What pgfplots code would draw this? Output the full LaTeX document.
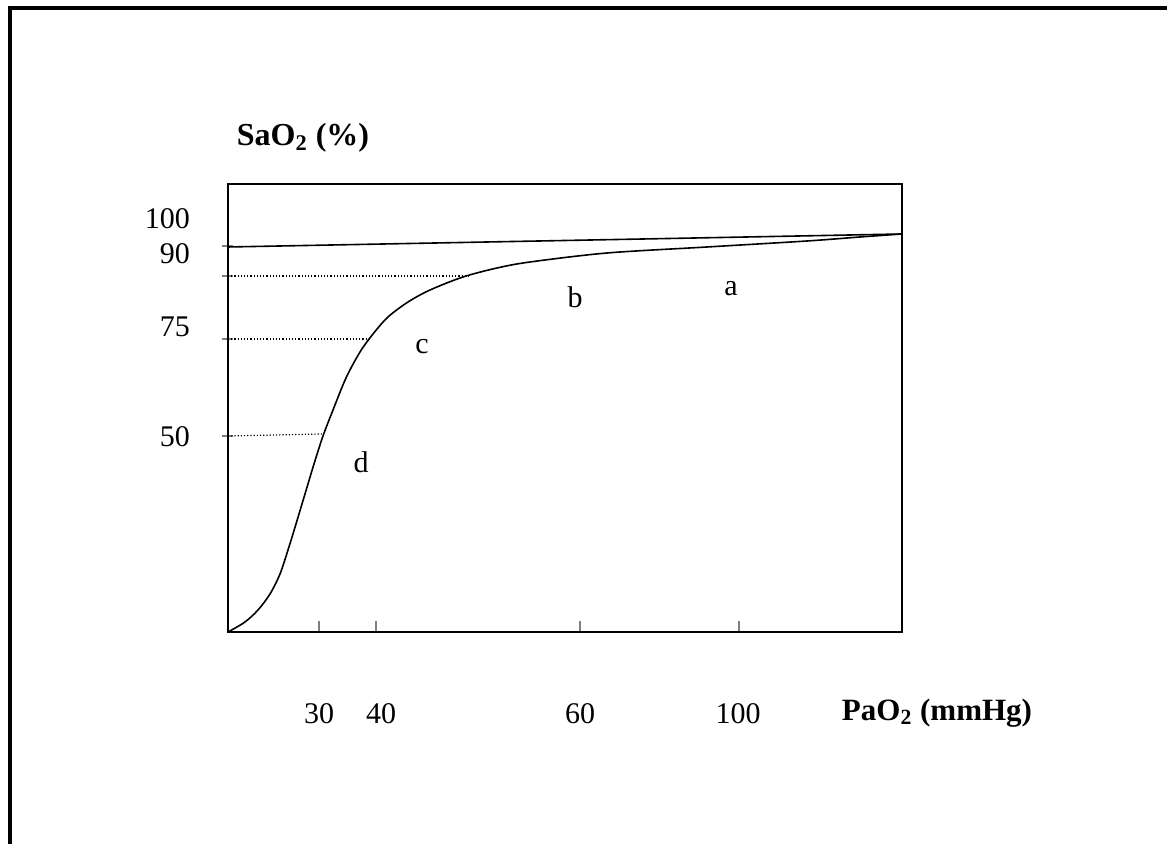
\documentclass[border=0pt]{standalone}
\usepackage{pgfplots}
\pgfplotsset{compat=1.18}
\usepackage{fontspec}
\setmainfont{Liberation Serif}
% 1 px of the reference = 0.5pt; axis coordinates are pixels from the axis corner
\begin{document}
\begin{tikzpicture}[x=0.5pt,y=0.5pt]
\path[use as bounding box] (0,0) rectangle (1167,844);
\draw[line width=2pt] (10,0) -- (10,836) -- (1167,836);
\begin{axis}[
    at={(228,212)}, anchor=south west,
    scale only axis, width=337pt, height=224pt,
    xmin=0, xmax=674, ymin=0, ymax=448,
    axis line style={line width=1pt},
    tick pos=left,
    tick align=inside,
    major tick length=5.5pt,
    xtick={91,148,352,511}, xticklabels={},
    ytick={196,293,356,386}, yticklabels={},
    xtick style={line width=0.8pt},
    ytick style={line width=0.8pt, xshift=-3pt},
    extra x ticks={91,153,352,510},
    extra x tick labels={30,40,60,100},
    extra x tick style={tick style={draw=none},
        xticklabel style={yshift=-32pt}},
    extra y ticks={195,305,378,413},
    extra y tick labels={50,75,90,100},
    extra y tick style={tick style={draw=none},
        yticklabel style={xshift=-15.5pt}},
    ticklabel style={font=\fontsize{15}{17}\selectfont},
    /pgf/number format/assume math mode=true,
    clip=false,
]
% upper (shifted) curve, nearly flat
\addplot[line width=0.8pt] coordinates {(0,385) (674,398)};
% dissociation curve
\addplot[line width=0.8pt, smooth] coordinates {
  (0,0) (17,10) (30,22) (42,38) (52,58) (60,82) (68,108) (77,138)
  (86,168) (95,196) (105,222) (118,254) (132,280) (145,298)
  (160,315) (180,330) (202,342) (235,355) (269,364) (302,370)
  (379,379) (479,385) (579,391) (632,395) (674,398)};
% dotted reading lines
\addplot[line width=0.6pt, densely dotted] coordinates {(0,356) (242,356)};
\addplot[line width=0.6pt, densely dotted] coordinates {(0,293) (142,293)};
\addplot[line width=0.6pt, densely dotted] coordinates {(0,196) (94,198)};
% zone letters
\node[font=\fontsize{15}{17}\selectfont] at (axis cs:503,343) {a};
\node[font=\fontsize{15}{17}\selectfont] at (axis cs:347,335) {b};
\node[font=\fontsize{15}{17}\selectfont] at (axis cs:194,285) {c};
\node[font=\fontsize{15}{17}\selectfont] at (axis cs:133,170) {d};
% axis titles
\node[font=\bfseries\fontsize{16}{18}\selectfont] at (axis cs:75,494) {SaO\textsubscript{2} (\%)};
\node[font=\bfseries\fontsize{15.5}{18}\selectfont] at (axis cs:709,-81) {PaO\textsubscript{2} (mmHg)};
\end{axis}
\end{tikzpicture}
\end{document}
